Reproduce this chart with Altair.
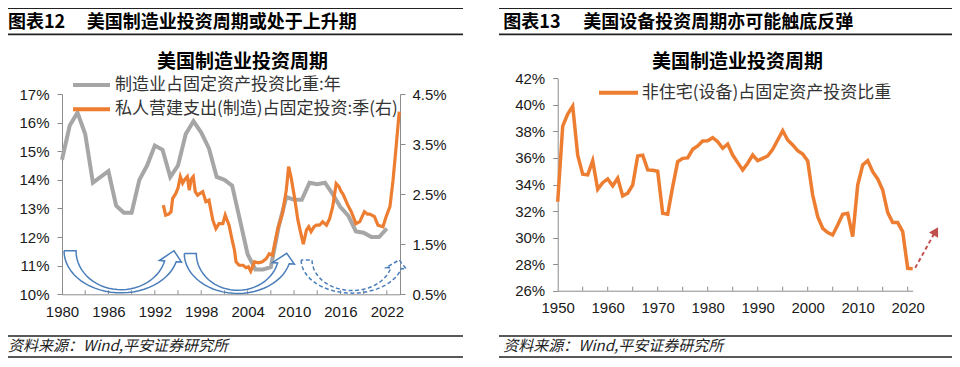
import altair as alt
import pandas as pd
import numpy as np

LATIN = "Liberation Sans, Noto Sans CJK SC, sans-serif"
CJK = "Noto Sans CJK SC, Liberation Sans, sans-serif"

# ---------------- data ----------------
# 图表12: manufacturing share of fixed investment (annual, left axis, %)
mfg_years = list(range(1980, 2023))
mfg_share = [14.7, 15.9, 16.35, 15.6, 13.9, 14.1, 14.3, 13.1, 12.85, 12.85,
             14.0, 14.5, 15.2, 15.05, 14.1, 14.5, 15.6, 16.05, 15.65, 15.1,
             14.1, 14.0, 13.8, 12.6, 11.4, 10.87, 10.87, 10.95, 12.35, 13.4,
             13.3, 13.3, 13.9, 13.85, 13.9, 13.5, 13.05, 12.75, 12.2, 12.15,
             12.0, 12.0, 12.3]

# private manufacturing construction share of fixed investment (quarterly, right axis, %)
cons_t = [1993.1, 1993.4, 1993.8, 1994.1, 1994.3, 1994.7, 1995.0, 1995.3, 1995.6, 1995.9,
          1996.2, 1996.45, 1996.7, 1996.97, 1997.23, 1997.53, 1997.9, 1998.2, 1998.6, 1999.0,
          1999.5, 1999.9, 2000.3, 2000.8, 2001.1, 2001.6, 2002.0, 2002.3, 2002.5, 2002.9,
          2003.4, 2003.8, 2004.1, 2004.4, 2004.9, 2005.4, 2005.9, 2006.4, 2006.8, 2007.2,
          2007.5, 2007.9, 2008.5, 2009.0, 2009.3, 2009.6, 2010.05, 2010.5, 2010.9, 2011.2,
          2011.6, 2011.9, 2012.2, 2012.6, 2012.9, 2013.3, 2013.7, 2014.2, 2014.6, 2015.0,
          2015.45, 2015.8, 2016.1, 2016.3, 2016.95, 2017.4, 2018.0, 2018.5, 2019.1, 2019.5,
          2019.8, 2020.4, 2020.85, 2021.5, 2021.9, 2022.4, 2022.8, 2023.2, 2023.6]
cons_share = [2.28, 2.08, 2.10, 2.15, 2.41, 2.51, 2.62, 2.85, 2.72, 2.80,
              2.85, 2.58, 2.80, 2.85, 2.55, 2.48, 2.52, 2.55, 2.35, 2.38,
              1.98, 1.81, 1.91, 1.91, 2.08, 1.88, 1.58, 1.38, 1.15, 1.08,
              1.08, 1.03, 1.05, 0.96, 1.15, 1.13, 1.15, 1.21, 1.31, 1.28,
              1.51, 1.81, 2.11, 2.58, 3.05, 2.85, 2.45, 1.98, 1.70, 1.50,
              1.78, 1.85, 1.75, 1.85, 1.88, 1.88, 1.95, 1.88, 2.01, 2.25,
              2.71, 2.65, 2.55, 2.51, 2.28, 2.15, 1.91, 1.95, 2.15, 2.10,
              2.10, 2.05, 1.88, 1.85, 2.05, 2.25, 2.78, 3.45, 4.15]

# 图表13: non-residential equipment share of fixed investment (annual, %)
eq_years = list(range(1950, 2022))
eq_share = [32.7, 38.4, 39.3, 39.9, 36.2, 34.77, 34.72, 35.8, 33.64, 34.14,
            34.42, 33.9, 34.47, 33.14, 33.34, 33.96, 36.15, 36.2, 35.1, 35.07,
            35.0, 31.83, 31.76, 33.84, 35.72, 35.97, 36.0, 36.65, 36.9, 37.28,
            37.3, 37.53, 37.23, 36.73, 37.05, 36.22, 35.65, 35.1, 35.6, 36.22,
            35.8, 35.97, 36.15, 36.65, 37.35, 38.05, 37.35, 36.98, 36.55, 36.3,
            35.77, 33.2, 31.58, 30.7, 30.38, 30.2, 30.95, 31.76, 31.83, 30.07,
            33.96, 35.47, 35.8, 34.97, 34.42, 33.59, 31.88, 31.13, 31.13, 30.45,
            27.69, 27.66]

# axis ticks / labels
left_x_labels = [1980, 1986, 1992, 1998, 2004, 2010, 2016, 2022]
left_x_minor = [1983, 1986, 1989, 1992, 1995, 1998, 2001, 2004, 2007, 2010, 2013, 2016, 2019, 2022]
left_y_ticks = [10, 11, 12, 13, 14, 15, 16, 17]
right_y_ticks = [0.5, 1.5, 2.5, 3.5, 4.5]
eq_x_labels = [1950, 1960, 1970, 1980, 1990, 2000, 2010, 2020]
eq_x_minor = [1955, 1960, 1965, 1970, 1975, 1980, 1985, 1990, 1995, 2000, 2005, 2010, 2015, 2020]
eq_y_ticks = [26, 28, 30, 32, 34, 36, 38, 40, 42]

# cycle arrows (annotation): centre year, top level %, outer/inner radii (years, %)
cycle_arrows = [
    dict(cx=1987.64, cy=11.52, rxo=7.38, ryo=1.47, rxi=5.83, ryi=1.36),
    dict(cx=2002.71, cy=11.43, rxo=6.90, ryo=1.40, rxi=5.35, ryi=1.29),
]
cycle_arrow_dashed = dict(cx=2017.51, cy=11.20, rxo=6.59, ryo=1.16, rxi=5.18, ryi=1.07)
rebound_x = [2021.5, 2025.3]
rebound_y = [27.72, 30.3]
rebound_head_x = [2025.62]
rebound_head_y = [30.49]

# ---------------- layout ----------------
W, H = 944, 351
AX = "#8C8C8C"
LAB = "#1A1A1A"
GRAY = "#A6A6A6"
ORANGE = "#ED7D31"
BLUE = "#4A7EBB"
RED = "#C0504D"

xl = alt.Scale(domain=[1980, 2023.7], range=[54, 392], nice=False, zero=False)
yl = alt.Scale(domain=[10, 17], range=[286.3, 86], nice=False, zero=False)
yr = alt.Scale(domain=[0.5, 4.5], range=[286.3, 86], nice=False, zero=False)
xe = alt.Scale(domain=[1950, 2021], range=[549.7, 904.7], nice=False, zero=False)
ye = alt.Scale(domain=[26, 42], range=[282.7, 70.3], nice=False, zero=False)

one = alt.Data(values=[{}])


def axis(**kw):
    base = dict(grid=False, title=None, labelFont=LATIN, labelFontSize=15,
                labelColor=LAB, domainColor=AX, tickColor=AX, domainWidth=1,
                labelOverlap=False, labelFlush=False)
    base.update(kw)
    return alt.Axis(**base)


def text(s, x, y, size, weight="normal", style="normal", align="left", color="#000000", font=CJK):
    return alt.Chart(one).mark_text(
        text=s, align=align, baseline="middle", fontSize=size, fontWeight=weight,
        fontStyle=style, color=color, font=font
    ).encode(x=alt.value(x), y=alt.value(y))


def hline(x1, x2, y, width, color):
    return alt.Chart(one).mark_rule(color=color, strokeWidth=width).encode(
        x=alt.value(x1), x2=alt.value(x2), y=alt.value(y))


def crescent(a, arrow_id, end_deg=345.0, barb=0.45, tip=0.27, n=30):
    phis = np.radians(np.linspace(180.0, end_deg, n))
    ox = a["cx"] + a["rxo"] * np.cos(phis)
    oy = a["cy"] + a["ryo"] * np.sin(phis)
    ix = a["cx"] + a["rxi"] * np.cos(phis)
    iy = a["cy"] + a["ryi"] * np.sin(phis)
    pe = phis[-1]
    pox, poy, pix, piy = ox[-1], oy[-1], ix[-1], iy[-1]
    mx, my = (pox + pix) / 2, (poy + piy) / 2
    rxm, rym = (a["rxo"] + a["rxi"]) / 2, (a["ryo"] + a["ryi"]) / 2
    tx, ty = mx + tip * (-rxm * np.sin(pe)), my + tip * (rym * np.cos(pe))
    bx1, by1 = pox + barb * (pox - pix), poy + barb * (poy - piy)
    bx2, by2 = pix - barb * (pox - pix), piy - barb * (poy - piy)
    xs = list(ox) + [bx1, tx, bx2] + list(ix[::-1]) + [ox[0]]
    ys = list(oy) + [by1, ty, by2] + list(iy[::-1]) + [oy[0]]
    return pd.DataFrame({"id": arrow_id, "i": range(len(xs)), "x": xs, "y": ys})


df_mfg = pd.DataFrame({"year": mfg_years, "v": mfg_share})
df_cons = pd.DataFrame({"t": cons_t, "v": cons_share})
df_eq = pd.DataFrame({"year": eq_years, "v": eq_share})

gray_line = alt.Chart(df_mfg).mark_line(color=GRAY, strokeWidth=4).encode(
    x=alt.X("year:Q", scale=xl, axis=axis(orient="bottom", offset=-64.7, values=left_x_labels,
                                          format="d", ticks=False, tickSize=0, labelPadding=10)),
    y=alt.Y("v:Q", scale=yl, axis=axis(orient="left", offset=-54, values=left_y_ticks,
                                       labelExpr="datum.value + '%'", tickSize=5, labelPadding=8)),
)

orange_line = alt.Chart(df_cons).mark_line(color=ORANGE, strokeWidth=3.2).encode(
    x=alt.X("t:Q", scale=xl, axis=None),
    y=alt.Y("v:Q", scale=yr, axis=axis(orient="right", offset=-552, values=right_y_ticks,
                                       labelExpr="format(datum.value, '.1f') + '%'",
                                       tickSize=5, labelPadding=7)),
)

left_minor = alt.Chart(pd.DataFrame({"t": left_x_minor})).mark_rule(color=AX, strokeWidth=1).encode(
    x=alt.X("t:Q", scale=xl, axis=None), y=alt.value(286.3), y2=alt.value(282.3))

df_arrows = pd.concat([crescent(a, k) for k, a in enumerate(cycle_arrows)])
arrows = alt.Chart(df_arrows).mark_line(color=BLUE, strokeWidth=1.5).encode(
    x=alt.X("x:Q", scale=xl, axis=None), y=alt.Y("y:Q", scale=yl, axis=None),
    detail="id:N", order="i:Q")
arrow_dash = alt.Chart(crescent(cycle_arrow_dashed, 9)).mark_line(
    color=BLUE, strokeWidth=1.5, strokeDash=[4, 2.5]).encode(
    x=alt.X("x:Q", scale=xl, axis=None), y=alt.Y("y:Q", scale=yl, axis=None),
    detail="id:N", order="i:Q")

eq_line = alt.Chart(df_eq).mark_line(color=ORANGE, strokeWidth=3.5).encode(
    x=alt.X("year:Q", scale=xe, axis=axis(orient="bottom", offset=-68.3, values=eq_x_labels,
                                          format="d", ticks=False, tickSize=0, labelPadding=9.5)),
    y=alt.Y("v:Q", scale=ye, axis=axis(orient="left", offset=-549.7, values=eq_y_ticks,
                                       labelExpr="datum.value + '%'", tickSize=5, labelPadding=8)),
)
eq_minor = alt.Chart(pd.DataFrame({"t": eq_x_minor})).mark_rule(color=AX, strokeWidth=1).encode(
    x=alt.X("t:Q", scale=xe, axis=None), y=alt.value(282.7), y2=alt.value(278.7))

reb_line = alt.Chart(pd.DataFrame({"x": rebound_x, "y": rebound_y})).mark_line(
    color=RED, strokeWidth=2, strokeDash=[4, 3]).encode(
    x=alt.X("x:Q", scale=xe, axis=None), y=alt.Y("y:Q", scale=ye, axis=None))
reb_head = alt.Chart(pd.DataFrame({"x": rebound_head_x, "y": rebound_head_y})).mark_point(
    shape="triangle-up", filled=True, size=110, angle=30, color=RED, opacity=1).encode(
    x=alt.X("x:Q", scale=xe, axis=None), y=alt.Y("y:Q", scale=ye, axis=None))

decor = [
    # header rules and titles
    hline(0, 455, 0.5, 1, "#222222"), hline(0, 455, 26.3, 1.8, "#222222"),
    hline(491, 944, 0.5, 1, "#222222"), hline(491, 944, 26.3, 1.8, "#222222"),
    text("图表12", 0, 14.5, 18, weight="bold"),
    text("美国制造业投资周期或处于上升期", 78.7, 14.5, 18, weight="bold"),
    text("图表13", 495.3, 14.5, 18, weight="bold"),
    text("美国设备投资周期亦可能触底反弹", 575.3, 14.5, 18, weight="bold"),
    # chart titles
    text("美国制造业投资周期", 234.5, 53.5, 19, weight="bold", align="center"),
    text("美国制造业投资周期", 729.5, 53.5, 19, weight="bold", align="center"),
    # legends
    alt.Chart(one).mark_rule(color=GRAY, strokeWidth=4).encode(
        x=alt.value(65), x2=alt.value(102), y=alt.value(77)),
    text("制造业占固定资产投资比重:年", 107, 77, 17, color="#333333"),
    alt.Chart(one).mark_rule(color=ORANGE, strokeWidth=4).encode(
        x=alt.value(65), x2=alt.value(102), y=alt.value(101.3)),
    text("私人营建支出(制造)占固定投资:季(右)", 107, 101.3, 17, color="#333333"),
    alt.Chart(one).mark_rule(color=ORANGE, strokeWidth=4).encode(
        x=alt.value(591), x2=alt.value(630), y=alt.value(84.7)),
    text("非住宅(设备)占固定资产投资比重", 633.7, 84.7, 17, color="#333333"),
    # footers
    hline(0, 455, 328, 1.5, "#222222"), hline(0, 455, 349, 1.5, "#222222"),
    hline(491, 944, 328, 1.5, "#222222"), hline(491, 944, 349, 1.5, "#222222"),
    text("资料来源：Wind,平安证券研究所", 0, 337.7, 15, style="italic", color="#222222"),
    text("资料来源：Wind,平安证券研究所", 495.3, 337.7, 15, style="italic", color="#222222"),
]

chart = alt.layer(
    gray_line, orange_line, left_minor, arrows, arrow_dash,
    eq_line, eq_minor, reb_line, reb_head, *decor
).resolve_scale(x="independent", y="independent").properties(
    width=W, height=H, padding=0,
    autosize=alt.AutoSizeParams(type="none"),
).configure_view(stroke=None)

chart.save("out.html", embed_options={"renderer": "svg", "actions": False})
